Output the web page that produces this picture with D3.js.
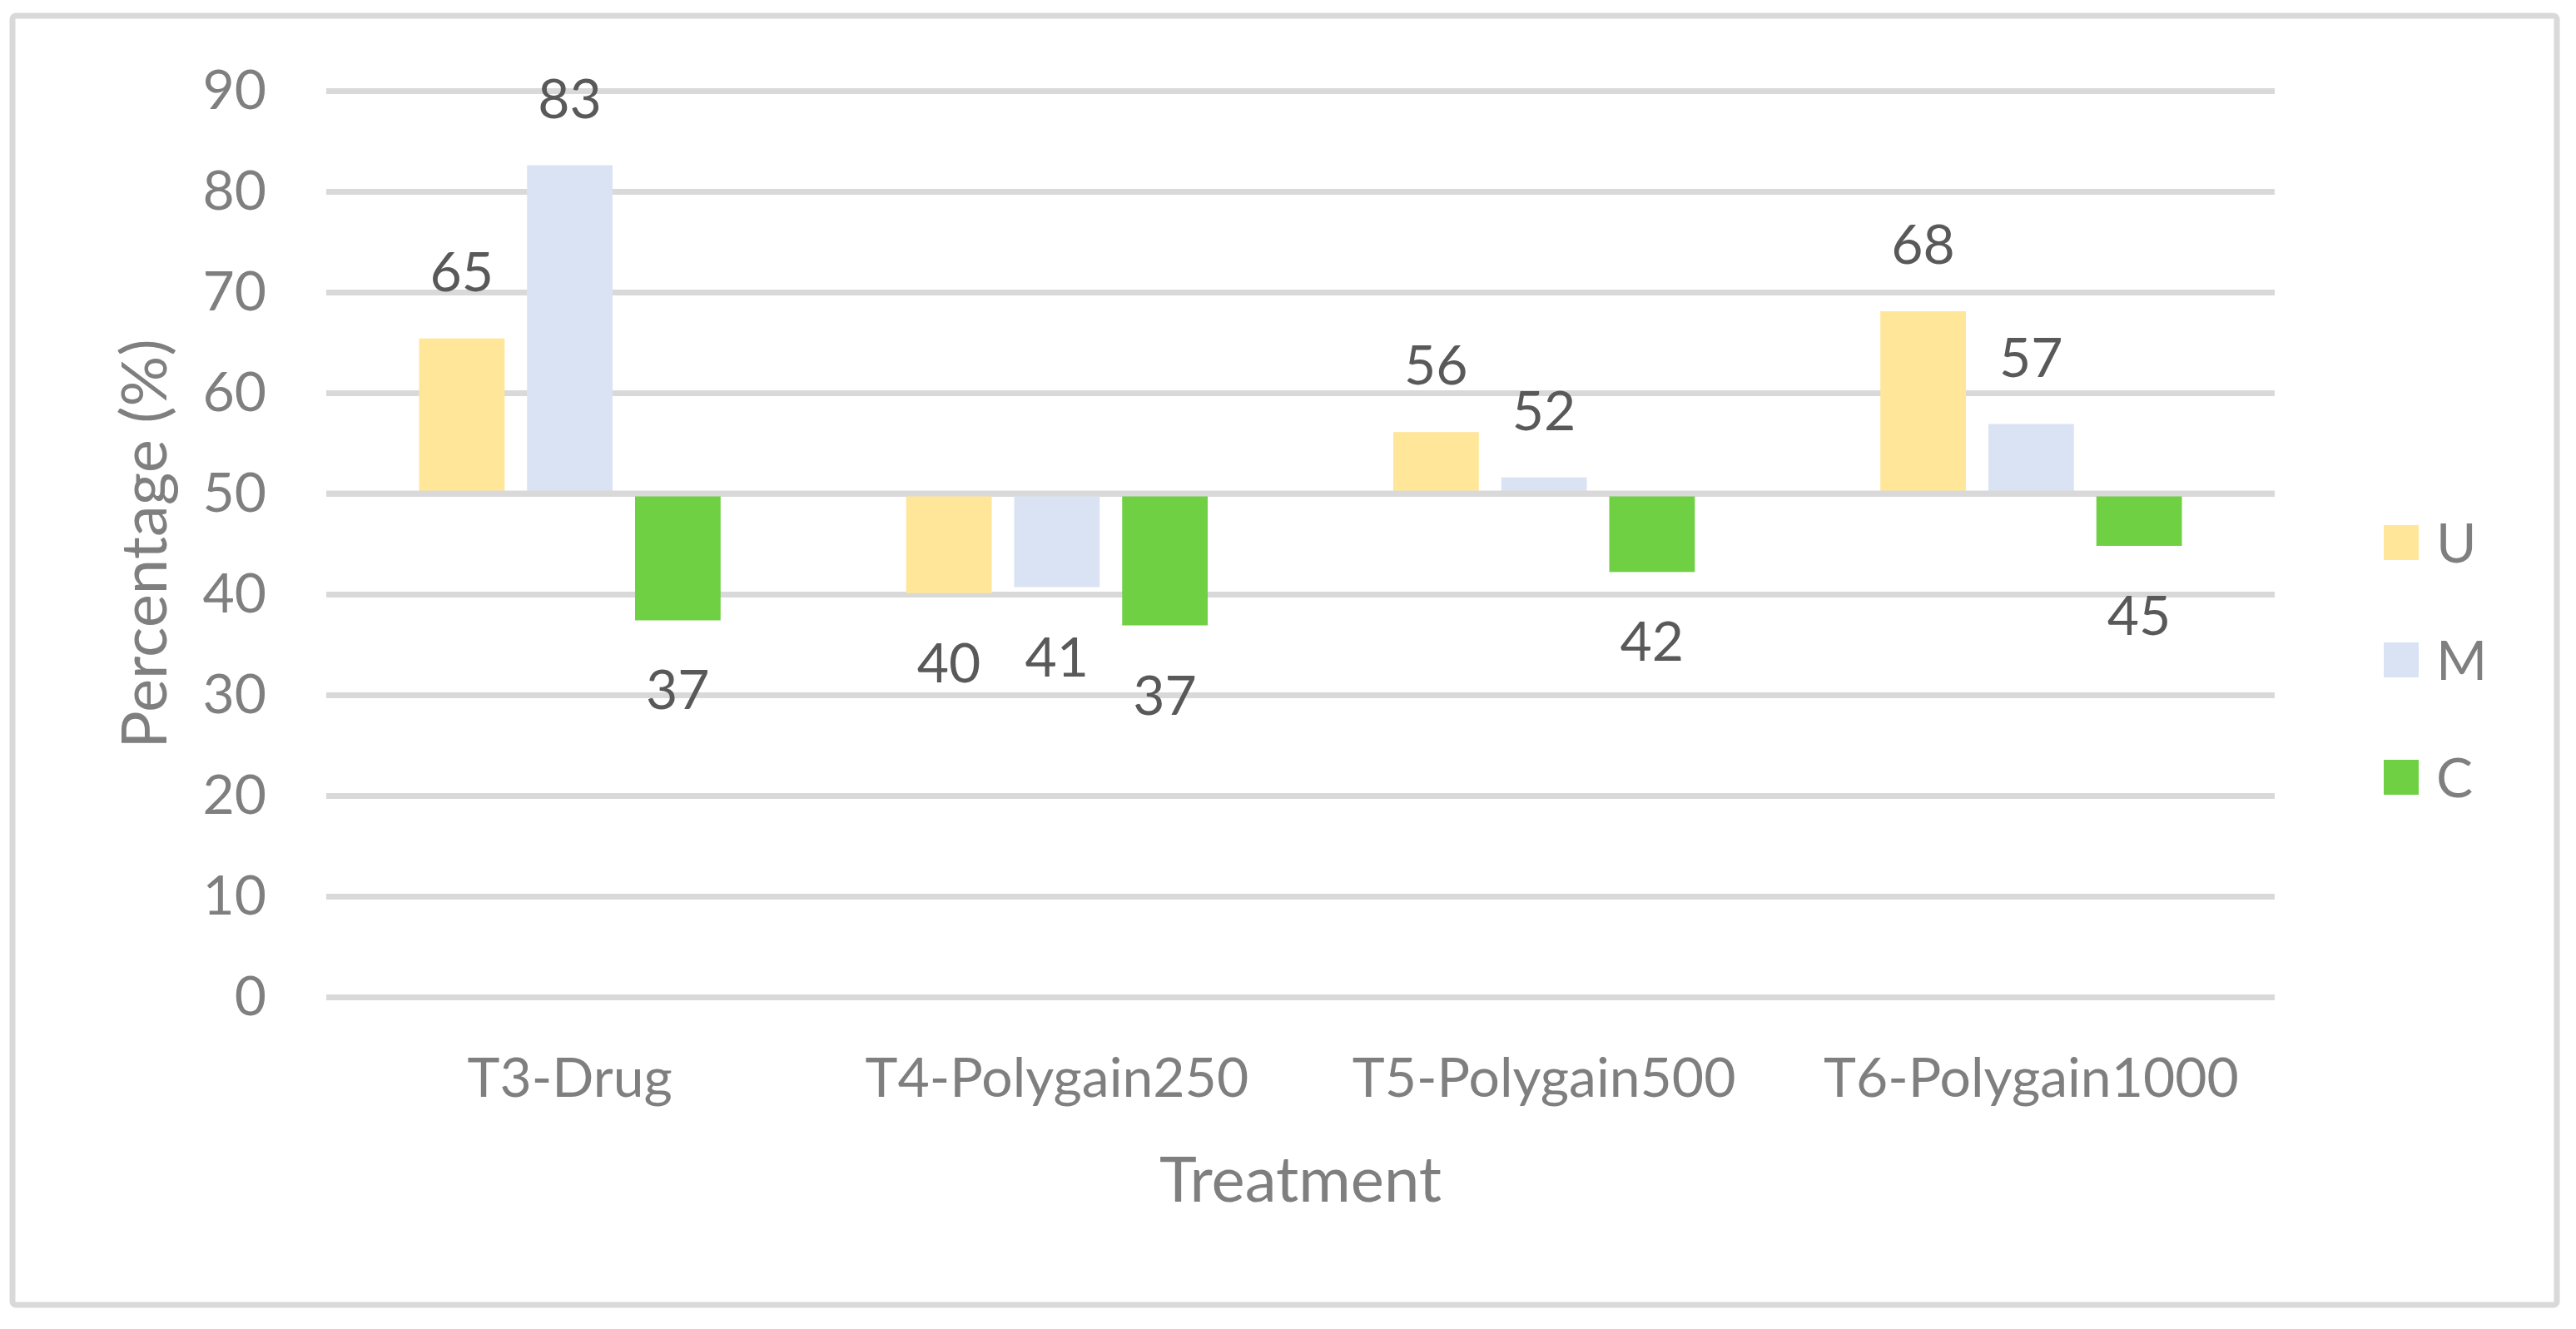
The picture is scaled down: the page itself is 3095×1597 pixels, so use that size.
<!DOCTYPE html>
<html>
<head>
<meta charset="utf-8">
<script src="https://cdnjs.cloudflare.com/ajax/libs/d3/7.8.5/d3.min.js"></script>
<style>
	body{margin:0;background:#fff;}
	text{font-family:Lato,"Open Sans",sans-serif;}
</style>
</head>
<body>
<svg id="chart"></svg>
<script>
// values
var categories = ["T3-Drug","T4-Polygain250","T5-Polygain500","T6-Polygain1000"];
var seriesNames = ["U","M","C"];
var seriesColors = ["#FFE699","#DAE3F3","#70D044"];
var valuesU = [65.4, 40.1, 56.1, 68.1];
var valuesM = [82.6, 40.7, 51.6, 56.9];
var valuesC = [37.4, 36.9, 42.2, 44.8];
var yTicks = [0,10,20,30,40,50,60,70,80,90];
var baseValue = 50;

var W = 3095, H = 1597;
var margin = {top: 109, right: 3095-2733, bottom: 1597-1198, left: 392};
var width = W - margin.left - margin.right;
var height = H - margin.top - margin.bottom;

var svg = d3.select("svg#chart")
	.attr("width", W)
	.attr("height", H);

// outer frame
svg.append("rect")
	.attr("x", 15).attr("y", 19)
	.attr("width", 3072-15).attr("height", 1568-19)
	.attr("rx", 4)
	.style("fill", "#fff")
	.style("stroke", "#d9d9d9")
	.style("stroke-width", 7);

var g = svg.append("g")
	.attr("transform", "translate(" + margin.left + "," + margin.top + ")");

var x0 = d3.scaleBand().domain(categories).range([0, width]).paddingInner(0.381).paddingOuter(0.1905);
var x1 = d3.scaleBand().domain(seriesNames).range([0, x0.bandwidth()]).paddingInner(0.208);
var y = d3.scaleLinear().domain([0, 90]).range([height, 0]);

var yAxis = d3.axisLeft(y).tickValues(yTicks).tickSize(-width).tickPadding(72);
var ga = g.append("g").call(yAxis);
ga.select(".domain").remove();
ga.selectAll(".tick line").style("stroke", "#d9d9d9").style("stroke-width", 7);
ga.selectAll(".tick text").style("font-size", "66px").style("fill", "#7f7f7f");

var data = [];
categories.forEach(function(c, i){
	data.push({cat: c, s: "U", v: valuesU[i]});
	data.push({cat: c, s: "M", v: valuesM[i]});
	data.push({cat: c, s: "C", v: valuesC[i]});
});
var color = d3.scaleOrdinal().domain(seriesNames).range(seriesColors);

g.selectAll("rect.bar")
	.data(data)
	.enter()
	.append("rect")
	.attr("class", "bar")
	.style("fill", function(d){ return color(d.s); })
	.attr("x", function(d){ return x0(d.cat) + x1(d.s); })
	.attr("width", x1.bandwidth())
	.attr("y", function(d){ return y(Math.max(d.v, baseValue)); })
	.attr("height", function(d){ return Math.abs(y(d.v) - y(baseValue)); });

// axis line at 50 sits over the bars
g.append("line")
	.attr("x1", 0).attr("x2", width)
	.attr("y1", y(baseValue)).attr("y2", y(baseValue))
	.style("stroke", "#d9d9d9")
	.style("stroke-width", 7);

g.selectAll("text.lbl")
	.data(data)
	.enter()
	.append("text")
	.attr("class", "lbl")
	.attr("text-anchor", "middle")
	.style("font-size", "66px")
	.style("fill", "#595959")
	.attr("x", function(d){ return x0(d.cat) + x1(d.s) + x1.bandwidth()/2; })
	.attr("y", function(d){
		return d.v >= baseValue ? y(d.v) - 57 : y(d.v) + 107;
	})
	.text(function(d){ return d.v.toFixed(0); });

var gx = g.append("g")
	.attr("transform", "translate(0," + height + ")")
	.call(d3.axisBottom(x0).tickSize(0).tickPadding(73));
gx.select(".domain").remove();
gx.selectAll(".tick text").style("font-size", "66px").style("fill", "#7f7f7f");

// axis titles
svg.append("text")
	.attr("transform", "translate(200," + (margin.top + height/2) + ") rotate(-90)")
	.attr("text-anchor", "middle")
	.style("font-size", "76px")
	.style("fill", "#7f7f7f")
	.text("Percentage (%)");

svg.append("text")
	.attr("x", margin.left + width/2)
	.attr("y", 1444)
	.attr("text-anchor", "middle")
	.style("font-size", "76px")
	.style("fill", "#7f7f7f")
	.text("Treatment");

// legend
var legend = svg.append("g").selectAll("g")
	.data(seriesNames)
	.enter()
	.append("g")
	.attr("transform", function(d, i){ return "translate(2864," + (652 + i*141) + ")"; });
legend.append("rect")
	.attr("x", 0).attr("y", -21)
	.attr("width", 42).attr("height", 42)
	.style("fill", function(d){ return color(d); });
legend.append("text")
	.attr("x", 63)
	.attr("dy", "0.36em")
	.style("font-size", "66px")
	.style("fill", "#7f7f7f")
	.text(function(d){ return d; });
</script>
</body>
</html>
